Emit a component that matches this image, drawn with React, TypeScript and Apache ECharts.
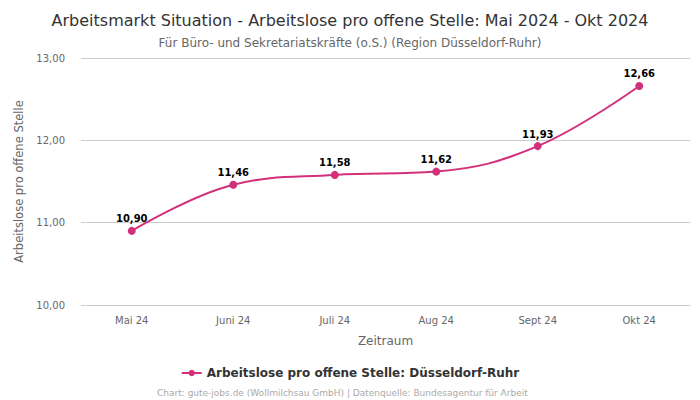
import React, { useEffect, useRef } from "react";
import * as echarts from "echarts";

const categories = ["Mai 24", "Juni 24", "Juli 24", "Aug 24", "Sept 24", "Okt 24"];
const values = [10.9, 11.46, 11.58, 11.62, 11.93, 12.66];
const seriesName = "Arbeitslose pro offene Stelle: Düsseldorf-Ruhr";
const color = "#d3307c";
const fmt = (v: number) => v.toFixed(2).replace(".", ",");

export default function App() {
  const ref = useRef<HTMLDivElement>(null);
  useEffect(() => {
    const chart = echarts.init(ref.current!, null, { renderer: "svg" });
    chart.setOption({
      animation: false,
      textStyle: { fontFamily: "DejaVu Sans" },
      title: [
        {
          text: "Arbeitsmarkt Situation - Arbeitslose pro offene Stelle: Mai 2024 - Okt 2024",
          left: "center",
          top: 7,
          textStyle: { fontSize: 16, fontWeight: "normal", color: "#333", fontFamily: "DejaVu Sans" },
        },
        {
          text: "Für Büro- und Sekretariatskräfte (o.S.) (Region Düsseldorf-Ruhr)",
          left: "center",
          top: 32,
          textStyle: { fontSize: 12, fontWeight: "normal", color: "#666", fontFamily: "DejaVu Sans" },
        },
        {
          text: "Chart: gute-jobs.de (Wollmilchsau GmbH) | Datenquelle: Bundesagentur für Arbeit",
          left: 152,
          top: 383,
          textStyle: { fontSize: 9, fontWeight: "normal", color: "#aaa", fontFamily: "DejaVu Sans" },
        },
      ],
      legend: {
        top: 362,
        left: "center",
        itemWidth: 20,
        itemHeight: 8,
        textStyle: { fontSize: 12, fontWeight: "bold", color: "#333", fontFamily: "DejaVu Sans" },
        data: [seriesName],
      },
      grid: { left: 81, right: 10, top: 58, bottom: 95 },
      xAxis: {
        type: "category",
        data: categories,
        name: "Zeitraum",
        nameLocation: "middle",
        nameGap: 30,
        nameTextStyle: { fontSize: 12, color: "#666" },
        axisLine: { show: false },
        axisTick: { show: false },
        axisLabel: { fontSize: 10, color: "#666", margin: 10 },
      },
      yAxis: {
        type: "value",
        min: 10,
        max: 13,
        interval: 1,
        name: "Arbeitslose pro offene Stelle",
        nameLocation: "middle",
        nameGap: 51,
        nameTextStyle: { fontSize: 11.5, color: "#666" },
        axisLabel: { fontSize: 10, color: "#666", formatter: (v: number) => fmt(v), margin: 16 },
        splitLine: { lineStyle: { color: "#ccc" } },
      },
      series: [
        {
          name: seriesName,
          type: "line",
          data: values,
          smooth: 0.4,
          symbol: "circle",
          symbolSize: 8,
          itemStyle: { color },
          lineStyle: { color, width: 2 },
          label: {
            show: true,
            position: "top",
            distance: 3,
            formatter: (p: any) => fmt(p.value),
            fontSize: 10,
            fontWeight: "bold",
            color: "#000",
          },
        },
      ],
    });
    return () => chart.dispose();
  }, []);
  return <div ref={ref} style={{ width: 700, height: 400, position: "absolute", left: 0, top: 0 }} />;
}
